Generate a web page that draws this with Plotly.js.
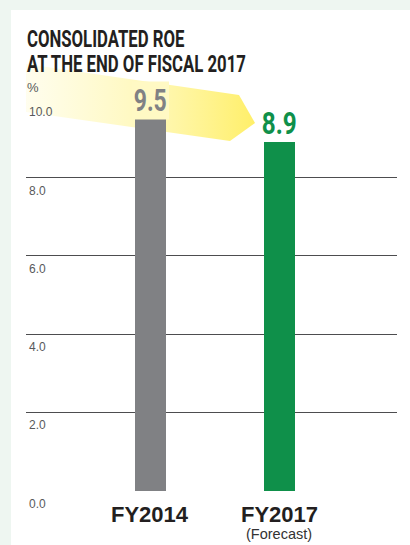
<!DOCTYPE html>
<html>
<head>
<meta charset="utf-8">
<script src="https://cdn.plot.ly/plotly-3.0.1.min.js"></script>
<style>html,body{margin:0;padding:0;background:#eef6f1;}#chart{width:410px;height:545px;}</style>
</head>
<body>
<div id="chart"></div>
<script>
// ---- data ----
const categories = ['FY2014', 'FY2017'];
const categoryNotes = ['', '(Forecast)'];
const roeValues = [9.5, 8.9];
const valueLabels = ['9.5', '8.9'];
const tickValues = [0, 2, 4, 6, 8, 10];
const tickLabels = ['0.0', '2.0', '4.0', '6.0', '8.0', '10.0'];
const titleLines = ['CONSOLIDATED ROE', 'AT THE END OF FISCAL 2017'];
const unitLabel = '%';

// ---- styling ----
const W = 410, H = 545;
const barColors = ['#808184', '#0f904a'];
const condensed = 'Roboto, DejaVu Sans, sans-serif';
const sans = 'Liberation Sans, Arial, sans-serif';
const titleWidth = 219;           // rendered width of the widest condensed title line (px)
const titleLineGap = 25;          // baseline-to-baseline distance of the title lines (px)
const valueWidths = [33, 35];     // rendered width of the condensed value labels (px)

// decorative arrow outline (page pixels)
const arrowX = [26, 239, 255, 230, 26, 26];
const arrowY = [64, 95, 123, 141, 112, 64];

const px = v => v / W;
const py = v => 1 - v / H;

const arrow = {
  type: 'scatter', x: arrowX, y: arrowY, xaxis: 'x', yaxis: 'y',
  mode: 'lines', line: {width: 0}, fill: 'toself',
  fillgradient: {type: 'horizontal', colorscale: [
    [0, 'rgba(255,244,140,0.15)'], [0.5, 'rgba(255,242,125,0.5)'], [1, 'rgba(255,239,105,1)']]},
  hoverinfo: 'skip', showlegend: false
};

const bars = {
  type: 'bar', x: categories, y: roeValues, xaxis: 'x2', yaxis: 'y2',
  width: 0.24, marker: {color: barColors, line: {width: 0}},
  hoverinfo: 'skip', showlegend: false
};

const annotations = [];
const squeezeList = [];
const titleIdx = annotations.length;
squeezeList.push({idx: titleIdx, w: titleWidth, anchor: 'left'});
annotations.push({
  xref: 'paper', yref: 'paper', x: px(25), y: py(22), xanchor: 'left', yanchor: 'top', align: 'left',
  text: titleLines.join('<br>'), showarrow: false,
  font: {family: condensed, size: 24.5, weight: 700, color: '#231f20'}
});
annotations.push({xref: 'paper', yref: 'paper', x: px(25), y: py(78), xanchor: 'left', yanchor: 'top',
  text: unitLabel, showarrow: false, font: {family: sans, size: 13, color: '#58595b'}});
tickValues.forEach((v, i) => annotations.push({
  xref: 'paper', yref: 'y2', x: px(27), y: v, xanchor: 'left', yanchor: 'middle', yshift: -13,
  text: tickLabels[i], showarrow: false, font: {family: sans, size: 12, color: '#58595b'}
}));
categories.forEach((c, i) => {
  squeezeList.push({idx: annotations.length, w: valueWidths[i], anchor: 'center'});
  annotations.push({xref: 'x2', yref: 'y2', x: c, y: roeValues[i], xanchor: 'center', yanchor: 'bottom',
    yshift: -1, text: valueLabels[i], showarrow: false, borderpad: 0,
    bgcolor: i === 0 ? 'rgb(255,249,196)' : 'rgba(0,0,0,0)',
    font: {family: condensed, size: 31, weight: 700, color: barColors[i]}});
  annotations.push({xref: 'x2', yref: 'y2', x: c, y: 0, xanchor: 'center', yanchor: 'top', yshift: -9,
    text: '<b>' + c + '</b>', showarrow: false, font: {family: sans, size: 22, color: '#231f20'}});
  if (categoryNotes[i]) annotations.push({xref: 'x2', yref: 'y2', x: c, y: 0, xanchor: 'center', yanchor: 'top',
    yshift: -33, text: categoryNotes[i], showarrow: false, font: {family: sans, size: 14.5, color: '#333'}});
});

const layout = {
  width: W, height: H, margin: {l: 0, r: 0, t: 0, b: 0},
  paper_bgcolor: '#eef6f1', plot_bgcolor: 'rgba(0,0,0,0)',
  xaxis: {domain: [0, 1], range: [0, W], visible: false, fixedrange: true},
  yaxis: {domain: [0, 1], range: [H, 0], visible: false, fixedrange: true},
  xaxis2: {domain: [26 / W, 397 / W], type: 'category', range: [-0.965, 1.911],
    showticklabels: false, showgrid: false, zeroline: false, ticks: '', anchor: 'y2'},
  yaxis2: {domain: [(H - 491) / H, (H - 99) / H], range: [-0.01, 10.01], tickvals: tickValues,
    showticklabels: false, showgrid: true, gridcolor: '#4d4d4f', gridwidth: 1, zeroline: false,
    ticks: '', anchor: 'x2'},
  shapes: [{type: 'rect', xref: 'paper', yref: 'paper', x0: px(11), x1: 1, y0: 0, y1: py(10),
    fillcolor: '#ffffff', line: {width: 0}, layer: 'below'}],
  annotations: annotations,
  bargap: 0
};

Plotly.newPlot('chart', [arrow, bars], layout, {displayModeBar: false, staticPlot: true}).then(() => {
  // tighten the title line spacing
  const tg = document.querySelector('#chart g.annotation[data-index="' + titleIdx + '"]');
  if (tg) {
    const lines = tg.querySelectorAll('text.annotation-text tspan.line');
    lines.forEach((l, i) => { if (i > 0) l.setAttribute('dy', String(i * titleLineGap)); });
  }
  // narrow the condensed display texts horizontally, keeping them as real text
  squeezeList.forEach(s => {
    const g = document.querySelector('#chart g.annotation[data-index="' + s.idx + '"]');
    if (!g) return;
    const t = g.querySelector('text.annotation-text');
    const bb = t.getBBox();
    if (!bb.width) return;
    const k = s.w / bb.width;
    const ox = s.anchor === 'left' ? bb.x : bb.x + bb.width / 2;
    t.setAttribute('transform', 'translate(' + ox + ',0) scale(' + k + ',1) translate(' + (-ox) + ',0)');
    const r = g.querySelector('rect.bg');
    if (r && s.anchor === 'center') {
      const rw = s.w + 4;
      const rx = parseFloat(r.getAttribute('x') || 0) + parseFloat(r.getAttribute('width')) / 2 - rw / 2;
      r.setAttribute('x', rx);
      r.setAttribute('width', rw);
    }
  });
});
</script>
</body>
</html>
